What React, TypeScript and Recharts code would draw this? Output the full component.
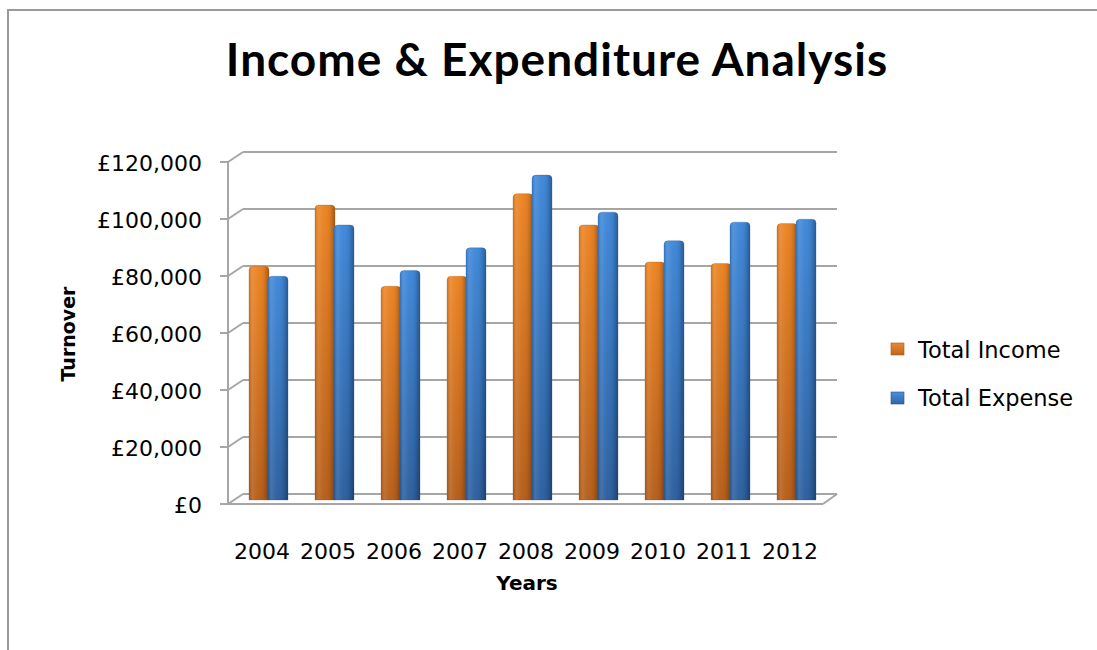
import React from 'react';
import { BarChart, Bar, XAxis, YAxis, CartesianGrid, ReferenceLine } from 'recharts';

const categories = ['2004', '2005', '2006', '2007', '2008', '2009', '2010', '2011', '2012'];
const totalIncome = [82000, 103500, 75000, 78500, 107500, 96500, 83500, 83000, 97000];
const totalExpense = [78500, 96500, 80500, 88500, 114000, 101000, 91000, 97500, 98500];
const yTicks = [0, 20000, 40000, 60000, 80000, 100000, 120000];
const seriesNames = ['Total Income', 'Total Expense'];

const data = categories.map((c, i) => ({ year: c, income: totalIncome[i], expense: totalExpense[i] }));

const GRID = '#a6a6a6';
const FONT = '"DejaVu Sans", Verdana, sans-serif';
const AXIS_X = 228;

const fmt = (v: number) => '£' + v.toLocaleString('en-GB');

const CylBar = (props: any) => {
  const { x, y, width, height, kind } = props;
  if (height == null || height <= 0) return null;
  const r = Math.min(4, width / 2);
  const w = width;
  const h = height;
  const d = `M${x},${y + h} L${x},${y + r} Q${x},${y} ${x + r},${y} L${x + w - r},${y} Q${x + w},${y} ${x + w},${y + r} L${x + w},${y + h} Z`;
  return (
    <g>
      <path d={d} fill={`url(#v-${kind})`} />
      <path d={d} fill="url(#hshade)" />
      <path d={d} fill="none" stroke={kind === 'inc' ? '#a4520f' : '#24528c'} strokeOpacity={0.35} strokeWidth={0.8} />
    </g>
  );
};

const YTick = (props: any) => {
  const { y, payload } = props;
  const x = AXIS_X;
  return (
    <g>
      <line x1={x - 8} y1={y + 4} x2={x} y2={y + 4} stroke={GRID} strokeWidth={2} />
      <line x1={x} y1={y + 4} x2={x + 15} y2={y - 6} stroke={GRID} strokeWidth={2} />
      <text x={x - 26} y={y + 5} textAnchor="end" dominantBaseline="central" fontFamily={FONT} fontSize={22} fill="#000">
        {fmt(payload.value)}
      </text>
    </g>
  );
};

const XTick = (props: any) => {
  const { x, y, payload } = props;
  return (
    <text x={x - 6} y={y + 51} textAnchor="middle" fontFamily={FONT} fontSize={22} fill="#000">
      {payload.value}
    </text>
  );
};

const gridLine = (p: any) => (
  <line key={`gl-${p.index}`} x1={p.x1 + 15} y1={p.y1 - 6} x2={p.x2} y2={p.y2 - 6} stroke={GRID} strokeWidth={2} />
);

const FloorEdge = (p: any) => {
  const x1 = p.x1 ?? 0;
  const x2 = p.x2 ?? 0;
  const y = p.y1 ?? 0;
  return (
    <g>
      <line x1={x1} y1={y + 4} x2={x2 - 14} y2={y + 4} stroke={GRID} strokeWidth={2} />
      <line x1={x2 - 14} y1={y + 4} x2={x2} y2={y - 6} stroke={GRID} strokeWidth={2} />
      <line x1={x1} y1={y + 4} x2={x1} y2={y + 4 - 342} stroke={GRID} strokeWidth={2} />
    </g>
  );
};

export default function App() {
  return (
    <div style={{ position: 'fixed', left: 0, top: 0, width: 1097, height: 650, overflow: 'hidden', background: '#fff' }}>
      <div style={{ position: 'absolute', left: 0, top: 0 }}>
        <BarChart
          width={1097}
          height={650}
          data={data}
          margin={{ top: 158, right: 260, bottom: 90, left: 128 }}
          barSize={20}
          barGap={-1}
        >
          <defs>
            <linearGradient id="v-inc" x1="0" y1="0" x2="0" y2="1">
              <stop offset="0%" stopColor="#ec8423" />
              <stop offset="100%" stopColor="#b55e1a" />
            </linearGradient>
            <linearGradient id="v-exp" x1="0" y1="0" x2="0" y2="1">
              <stop offset="0%" stopColor="#3f88d9" />
              <stop offset="100%" stopColor="#2c5f9e" />
            </linearGradient>
            <linearGradient id="hshade" x1="0" y1="0" x2="1" y2="0">
              <stop offset="0%" stopColor="#000" stopOpacity={0.08} />
              <stop offset="15%" stopColor="#fff" stopOpacity={0.12} />
              <stop offset="45%" stopColor="#fff" stopOpacity={0.02} />
              <stop offset="75%" stopColor="#000" stopOpacity={0.06} />
              <stop offset="100%" stopColor="#000" stopOpacity={0.32} />
            </linearGradient>
          </defs>
          <CartesianGrid vertical={false} horizontal={gridLine} />
          <XAxis
            dataKey="year"
            padding={{ left: 7, right: 8 }}
            axisLine={false}
            tickLine={false}
            height={60}
            tick={<XTick />}
            interval={0}
          />
          <YAxis
            width={100}
            domain={[0, 120000]}
            ticks={yTicks}
            interval={0}
            tickLine={false}
            axisLine={false}
            tick={<YTick />}
          />
          <ReferenceLine y={0} shape={FloorEdge} />
          <Bar dataKey="income" name={seriesNames[0]} isAnimationActive={false} shape={(p: any) => <CylBar {...p} kind="inc" />} />
          <Bar dataKey="expense" name={seriesNames[1]} isAnimationActive={false} shape={(p: any) => <CylBar {...p} kind="exp" />} />
        </BarChart>
      </div>
      <svg width={1097} height={650} style={{ position: 'absolute', left: 0, top: 0, pointerEvents: 'none' }}>
        <defs>
          <linearGradient id="lg-inc" x1="0" y1="0" x2="0" y2="1">
            <stop offset="0%" stopColor="#e98a33" />
            <stop offset="100%" stopColor="#c0661c" />
          </linearGradient>
          <linearGradient id="lg-exp" x1="0" y1="0" x2="0" y2="1">
            <stop offset="0%" stopColor="#4a8fdc" />
            <stop offset="100%" stopColor="#2d66a8" />
          </linearGradient>
        </defs>
        <line x1={8} y1={9} x2={8} y2={650} stroke="#9a9a9a" strokeWidth={2} />
        <line x1={7} y1={10} x2={1097} y2={10} stroke="#9a9a9a" strokeWidth={2} />
        <text x={557} y={76} textAnchor="middle" fontFamily="Lato, sans-serif" fontWeight={700} fontSize={46} letterSpacing={1} fill="#000">
          Income &amp; Expenditure Analysis
        </text>
        <text x={527} y={590} textAnchor="middle" fontFamily={FONT} fontWeight={700} fontSize={20} fill="#000">
          Years
        </text>
        <text x={75} y={334} textAnchor="middle" transform="rotate(-90 75 334)" fontFamily={FONT} fontWeight={700} fontSize={19} fill="#000">
          Turnover
        </text>
        <rect x={891} y={343} width={13} height={12} fill="url(#lg-inc)" stroke="#a8560f" strokeWidth={0.6} />
        <text x={918} y={358} fontFamily={FONT} fontSize={22.5} fill="#000">{seriesNames[0]}</text>
        <rect x={891} y={392} width={13} height={12} fill="url(#lg-exp)" stroke="#24528c" strokeWidth={0.6} />
        <text x={918} y={406} fontFamily={FONT} fontSize={22.5} fill="#000">{seriesNames[1]}</text>
      </svg>
    </div>
  );
}
